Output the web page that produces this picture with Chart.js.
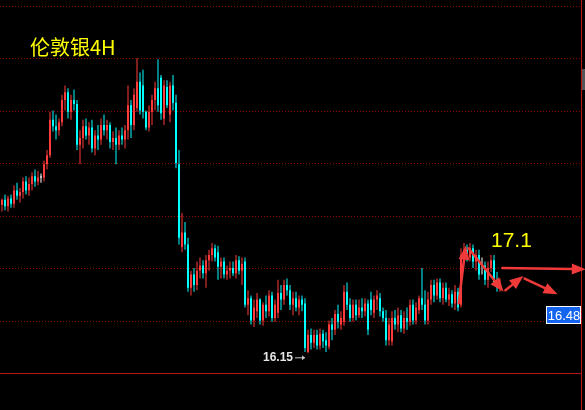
<!DOCTYPE html>
<html>
<head>
<meta charset="utf-8">
<script src="https://cdn.jsdelivr.net/npm/chart.js@4/dist/chart.umd.min.js"></script>
<style>
    body { margin: 0; background: #000; }
    canvas { display: block; }
</style>
</head>
<body>
<canvas id="silverChart" width="585" height="410"></canvas>
<script>
// Candles (4H)
const opens = [
    17.28, 17.32, 17.27, 17.33, 17.29, 17.39, 17.35, 17.38, 17.46, 17.39,
    17.44, 17.50, 17.46, 17.49, 17.49, 17.59, 17.66, 17.93, 17.88, 17.85,
    17.91, 18.08, 18.14, 17.99, 18.08, 18.05, 17.74, 17.79, 17.88, 17.81,
    17.87, 17.71, 17.81, 17.78, 17.89, 17.85, 17.89, 17.76, 17.79, 17.74,
    17.81, 17.78, 17.85, 18.04, 17.89, 18.02, 18.22, 18.19, 17.99, 17.87,
    17.99, 18.08, 18.17, 18.25, 17.94, 18.18, 17.97, 18.19, 18.06, 17.59,
    16.96, 17.07, 16.98, 16.65, 16.75, 16.67, 16.78, 16.82, 16.76, 16.86,
    16.90, 16.95, 16.92, 16.81, 16.85, 16.75, 16.78, 16.80, 16.76, 16.86,
    16.78, 16.85, 16.52, 16.57, 16.40, 16.47, 16.56, 16.40, 16.52, 16.47,
    16.59, 16.42, 16.46, 16.61, 16.56, 16.67, 16.63, 16.52, 16.57, 16.50,
    16.56, 16.53, 16.16, 16.29, 16.23, 16.29, 16.21, 16.30, 16.25, 16.20,
    16.37, 16.33, 16.45, 16.37, 16.39, 16.62, 16.52, 16.42, 16.52, 16.44,
    16.50, 16.47, 16.53, 16.56, 16.46, 16.56, 16.57, 16.47, 16.42, 16.25,
    16.24, 16.42, 16.37, 16.44, 16.34, 16.42, 16.39, 16.52, 16.40, 16.48,
    16.57, 16.52, 16.40, 16.56, 16.67, 16.59, 16.69, 16.57, 16.65, 16.56,
    16.60, 16.53, 16.62, 16.52, 16.90, 16.94, 16.88, 16.95, 16.85, 16.90,
    16.82, 16.82, 16.71, 16.80, 16.86, 16.69, 16.65
];
const highs = [
    17.33, 17.36, 17.35, 17.36, 17.43, 17.45, 17.41, 17.49, 17.50, 17.49,
    17.53, 17.55, 17.54, 17.52, 17.62, 17.70, 17.99, 18.00, 17.97, 17.94,
    18.12, 18.19, 18.17, 18.12, 18.16, 18.08, 17.85, 17.93, 17.94, 17.91,
    17.93, 17.85, 17.89, 17.94, 17.97, 17.93, 17.91, 17.84, 17.87, 17.85,
    17.87, 17.89, 18.19, 18.08, 18.17, 18.40, 18.29, 18.31, 18.00, 18.04,
    18.12, 18.22, 18.39, 18.27, 18.23, 18.23, 18.22, 18.27, 18.12, 17.70,
    17.22, 17.15, 17.03, 16.78, 16.80, 16.85, 16.88, 16.86, 16.90, 16.94,
    16.99, 16.98, 16.97, 16.88, 16.88, 16.82, 16.85, 16.85, 16.90, 16.89,
    16.88, 16.88, 16.63, 16.59, 16.56, 16.61, 16.57, 16.54, 16.59, 16.63,
    16.62, 16.56, 16.71, 16.67, 16.71, 16.72, 16.67, 16.62, 16.62, 16.59,
    16.59, 16.57, 16.33, 16.34, 16.33, 16.33, 16.34, 16.33, 16.31, 16.40,
    16.42, 16.48, 16.52, 16.47, 16.67, 16.69, 16.57, 16.56, 16.56, 16.56,
    16.57, 16.57, 16.56, 16.62, 16.59, 16.63, 16.61, 16.50, 16.48, 16.42,
    16.47, 16.48, 16.50, 16.48, 16.47, 16.50, 16.56, 16.56, 16.54, 16.59,
    16.80, 16.63, 16.62, 16.71, 16.71, 16.72, 16.72, 16.69, 16.69, 16.65,
    16.63, 16.67, 16.65, 16.95, 16.99, 16.98, 16.99, 16.98, 16.94, 16.94,
    16.88, 16.85, 16.85, 16.90, 16.90, 16.77, 16.72
];
const lows = [
    17.23, 17.24, 17.23, 17.26, 17.26, 17.32, 17.30, 17.33, 17.36, 17.35,
    17.39, 17.42, 17.43, 17.45, 17.46, 17.55, 17.64, 17.84, 17.78, 17.81,
    17.88, 18.00, 17.94, 17.93, 18.00, 17.70, 17.59, 17.71, 17.78, 17.74,
    17.68, 17.66, 17.70, 17.74, 17.81, 17.78, 17.71, 17.70, 17.59, 17.70,
    17.74, 17.71, 17.78, 17.79, 17.85, 17.99, 17.97, 17.94, 17.85, 17.84,
    17.89, 18.00, 17.99, 17.93, 17.89, 18.02, 17.91, 18.00, 17.56, 16.98,
    16.92, 16.94, 16.62, 16.59, 16.62, 16.63, 16.72, 16.72, 16.65, 16.78,
    16.85, 16.85, 16.71, 16.72, 16.72, 16.71, 16.72, 16.74, 16.72, 16.75,
    16.67, 16.50, 16.44, 16.37, 16.35, 16.42, 16.37, 16.36, 16.42, 16.43,
    16.39, 16.39, 16.42, 16.48, 16.52, 16.59, 16.48, 16.44, 16.47, 16.44,
    16.47, 16.16, 16.15, 16.18, 16.19, 16.18, 16.18, 16.19, 16.16, 16.18,
    16.25, 16.29, 16.34, 16.33, 16.36, 16.48, 16.39, 16.39, 16.40, 16.42,
    16.42, 16.43, 16.29, 16.44, 16.42, 16.48, 16.43, 16.39, 16.21, 16.21,
    16.21, 16.33, 16.31, 16.31, 16.30, 16.33, 16.36, 16.37, 16.37, 16.45,
    16.48, 16.37, 16.37, 16.52, 16.54, 16.56, 16.54, 16.52, 16.54, 16.51,
    16.50, 16.48, 16.47, 16.50, 16.86, 16.85, 16.85, 16.80, 16.78, 16.71,
    16.75, 16.67, 16.65, 16.77, 16.67, 16.62, 16.62
];
const closes = [
    17.32, 17.27, 17.33, 17.29, 17.39, 17.35, 17.38, 17.46, 17.39, 17.44,
    17.50, 17.46, 17.49, 17.49, 17.59, 17.66, 17.93, 17.88, 17.85, 17.91,
    18.08, 18.14, 17.99, 18.08, 18.05, 17.74, 17.79, 17.88, 17.81, 17.87,
    17.71, 17.81, 17.78, 17.89, 17.85, 17.89, 17.76, 17.79, 17.74, 17.81,
    17.78, 17.85, 18.04, 17.89, 18.12, 18.22, 18.00, 17.99, 17.87, 17.99,
    18.08, 18.17, 18.04, 17.98, 18.19, 18.04, 18.19, 18.06, 17.60, 17.03,
    17.07, 16.98, 16.65, 16.75, 16.67, 16.78, 16.82, 16.76, 16.86, 16.90,
    16.95, 16.88, 16.81, 16.85, 16.75, 16.78, 16.80, 16.76, 16.86, 16.78,
    16.83, 16.52, 16.57, 16.40, 16.50, 16.56, 16.40, 16.52, 16.47, 16.59,
    16.42, 16.52, 16.61, 16.56, 16.67, 16.63, 16.52, 16.57, 16.50, 16.56,
    16.52, 16.19, 16.29, 16.23, 16.29, 16.21, 16.30, 16.24, 16.21, 16.37,
    16.33, 16.45, 16.39, 16.42, 16.62, 16.52, 16.42, 16.52, 16.44, 16.50,
    16.47, 16.53, 16.33, 16.48, 16.56, 16.59, 16.47, 16.42, 16.25, 16.37,
    16.42, 16.37, 16.44, 16.34, 16.42, 16.39, 16.52, 16.40, 16.50, 16.57,
    16.52, 16.40, 16.56, 16.67, 16.59, 16.69, 16.57, 16.65, 16.56, 16.60,
    16.53, 16.62, 16.50, 16.90, 16.94, 16.88, 16.95, 16.85, 16.90, 16.75,
    16.82, 16.71, 16.80, 16.86, 16.69, 16.65, 16.67
];

// Empty slots after the last candle (space on the right of the chart)
const emptySlots = 27;

// Price levels of the dotted grid, and the bottom line
const gridLevels = [16.4, 16.8, 17.2, 17.6, 18.0, 18.4, 18.8];
const baseLevel = 16.0;
const priceMin = 16.0;
const priceMax = 18.842;

// Hand-drawn arrows: [fromIndex, fromPrice, toIndex, toPrice]
const arrows = [
    [152.2, 16.53, 154.6, 16.97],
    [155.5, 16.95, 167.2, 16.62],
    [167.8, 16.63, 173.8, 16.74],
    [174.2, 16.72, 185.2, 16.60],
    [166.8, 16.80, 194.6, 16.79]
];

const titleText = '伦敦银4H';
const targetText = '17.1';
const lastPriceText = '16.48';

const UP = '#ff3b3b';
const DOWN = '#00ffff';
const DOJI = '#ffffff';

// Build the series for Chart.js
const labels = opens.map((o, i) => 'c' + i).concat(Array.from({ length: emptySlots }, (_, i) => 'e' + i));
const wicks = lows.map((l, i) => [l, highs[i]]);
const bodies = opens.map((o, i) => [o, closes[i]]);
const colors = opens.map((o, i) => closes[i] > o ? UP : (closes[i] < o ? DOWN : DOJI));

// Dotted grid + frame lines
const gridPlugin = {
    id: 'grid',
    beforeDatasetsDraw(chart) {
        const ctx = chart.ctx;
        const y = chart.scales.y;
        ctx.save();
        ctx.strokeStyle = '#8c0000';
        ctx.lineWidth = 1;
        ctx.setLineDash([1, 2]);
        gridLevels.forEach(level => {
            const py = Math.round(y.getPixelForValue(level)) + 0.5;
            ctx.beginPath();
            ctx.moveTo(0, py);
            ctx.lineTo(581, py);
            ctx.stroke();
        });
        ctx.setLineDash([]);
        ctx.strokeStyle = '#b01818';
        const by = Math.round(y.getPixelForValue(baseLevel)) + 0.5;
        ctx.beginPath();
        ctx.moveTo(0, by);
        ctx.lineTo(581, by);
        ctx.moveTo(581.5, 0);
        ctx.lineTo(581.5, 410);
        ctx.stroke();
        ctx.fillStyle = '#555555';
        ctx.fillRect(582, 69, 3, 21);
        ctx.restore();
    }
};

function drawArrow(ctx, x1, y1, x2, y2) {
    const ang = Math.atan2(y2 - y1, x2 - x1);
    const head = 14;
    const bx = x2 - head * Math.cos(ang);
    const by = y2 - head * Math.sin(ang);
    ctx.beginPath();
    ctx.moveTo(x1, y1);
    ctx.lineTo(bx, by);
    ctx.stroke();
    ctx.beginPath();
    ctx.moveTo(x2, y2);
    ctx.lineTo(bx + 5.5 * Math.sin(ang), by - 5.5 * Math.cos(ang));
    ctx.lineTo(bx - 5.5 * Math.sin(ang), by + 5.5 * Math.cos(ang));
    ctx.closePath();
    ctx.fill();
}

// Texts, price labels and arrows on top of the candles
const overlayPlugin = {
    id: 'overlay',
    afterDatasetsDraw(chart) {
        const ctx = chart.ctx;
        const xs = chart.scales.x;
        const ys = chart.scales.y;
        ctx.save();

        // title
        ctx.fillStyle = '#ffff00';
        ctx.font = '20px "Noto Sans CJK SC"';
        ctx.textBaseline = 'middle';
        ctx.fillText(titleText, 30, 47);

        // lowest candle marker
        let lowIdx = 0;
        lows.forEach((l, i) => { if (l < lows[lowIdx]) lowIdx = i; });
        const lx = xs.getPixelForValue(lowIdx) - 3;
        const ly = ys.getPixelForValue(lows[lowIdx]) + 4;
        ctx.font = 'bold 12px "Liberation Sans"';
        ctx.fillStyle = '#e6e6e6';
        ctx.textAlign = 'right';
        ctx.fillText(lows[lowIdx].toFixed(2), lx - 12, ly);
        ctx.strokeStyle = '#c8c8c8';
        ctx.fillStyle = '#c8c8c8';
        ctx.lineWidth = 1;
        ctx.beginPath();
        ctx.moveTo(lx - 10, ly + 0.5);
        ctx.lineTo(lx, ly + 0.5);
        ctx.stroke();
        ctx.beginPath();
        ctx.moveTo(lx, ly + 0.5);
        ctx.lineTo(lx - 3, ly - 2);
        ctx.lineTo(lx - 3, ly + 3);
        ctx.closePath();
        ctx.fill();

        // red arrows
        ctx.strokeStyle = '#f03a3a';
        ctx.fillStyle = '#f03a3a';
        ctx.lineWidth = 2.5;
        ctx.lineCap = 'round';
        arrows.forEach(a => {
            drawArrow(ctx, xs.getPixelForValue(a[0]), ys.getPixelForValue(a[1]),
                xs.getPixelForValue(a[2]), ys.getPixelForValue(a[3]));
        });

        // target text
        ctx.textAlign = 'left';
        ctx.fillStyle = '#ffff00';
        ctx.font = '21px "Liberation Sans"';
        ctx.fillText(targetText, 491, 241);

        // last price box
        ctx.fillStyle = '#1464f0';
        ctx.fillRect(546, 306, 35, 18);
        ctx.strokeStyle = '#ffffff';
        ctx.lineWidth = 1;
        ctx.strokeRect(546.5, 306.5, 34, 17);
        ctx.fillStyle = '#ffffff';
        ctx.font = '13px "Liberation Sans"';
        ctx.textAlign = 'center';
        ctx.fillText(lastPriceText, 564, 316);

        ctx.restore();
    }
};

const ctx = document.getElementById('silverChart').getContext('2d');
new Chart(ctx, {
    type: 'bar',
    data: {
        labels: labels,
        datasets: [{
            data: wicks,
            backgroundColor: colors,
            barThickness: 1,
            inflateAmount: 0,
            grouped: false,
            order: 2
        }, {
            data: bodies,
            backgroundColor: colors,
            barThickness: 2,
            minBarLength: 1,
            inflateAmount: 0,
            grouped: false,
            order: 1
        }]
    },
    options: {
        responsive: false,
        animation: false,
        devicePixelRatio: 1,
        layout: { padding: { left: 0.5, right: 2.5, top: 0, bottom: 37 } },
        plugins: {
            legend: { display: false },
            tooltip: { enabled: false }
        },
        scales: {
            x: { display: false, offset: true },
            y: { display: false, min: priceMin, max: priceMax }
        }
    },
    plugins: [gridPlugin, overlayPlugin]
});
</script>
</body>
</html>
